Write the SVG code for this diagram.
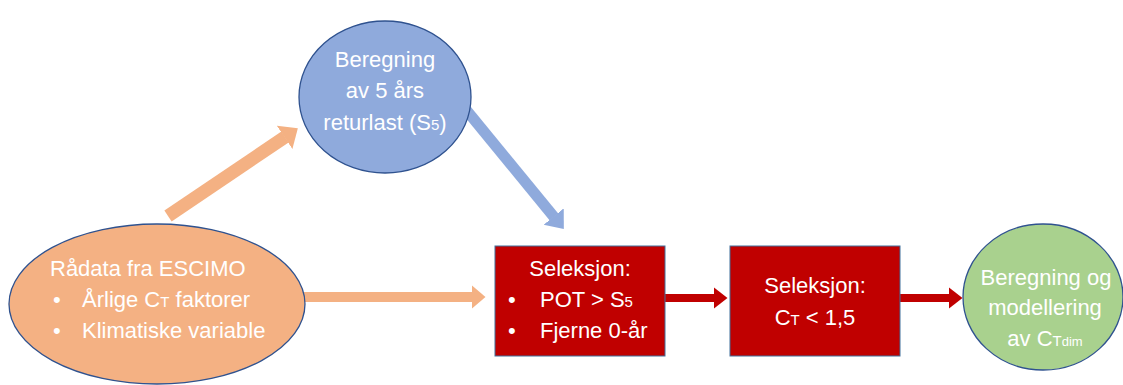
<svg xmlns="http://www.w3.org/2000/svg" width="1123" height="385" viewBox="0 0 1123 385">
<style>
  text { font-family: "Liberation Sans", Arial, sans-serif; font-size: 22px; fill: #ffffff; }
  .c { text-anchor: middle; }
  .sub { font-size: 15px; }
  .sub2 { font-size: 13px; }
  .node { stroke: #2F528F; stroke-width: 1.3; }
  .box { stroke: #41719C; stroke-width: 1; }
</style>
<defs>
  <marker id="hOrange" markerUnits="userSpaceOnUse" markerWidth="17" markerHeight="30" refX="0.5" refY="15" orient="auto">
    <path d="M0,1 L16,15 L0,29 z" fill="#F4B183"/>
  </marker>
  <marker id="hBlue" markerUnits="userSpaceOnUse" markerWidth="17" markerHeight="30" refX="0.5" refY="15" orient="auto">
    <path d="M0,2 L16,15 L0,28 z" fill="#8FAADC"/>
  </marker>
  <marker id="hOrange2" markerUnits="userSpaceOnUse" markerWidth="15" markerHeight="26" refX="0.5" refY="13" orient="auto">
    <path d="M0,1 L14,13 L0,25 z" fill="#F4B183"/>
  </marker>
  <marker id="hRed" markerUnits="userSpaceOnUse" markerWidth="15" markerHeight="24" refX="0.5" refY="12" orient="auto">
    <path d="M0,1 L14,12 L0,23 z" fill="#C00000"/>
  </marker>
</defs>

<g id="connectors">
  <line x1="168" y1="216" x2="285" y2="137" stroke="#F4B183" stroke-width="13" marker-end="url(#hOrange)"/>
  <line x1="463" y1="106" x2="554" y2="217" stroke="#8FAADC" stroke-width="11" marker-end="url(#hBlue)"/>
  <line x1="300" y1="297" x2="472" y2="297" stroke="#F4B183" stroke-width="10" marker-end="url(#hOrange2)"/>
  <line x1="665" y1="298" x2="714" y2="298" stroke="#C00000" stroke-width="8" marker-end="url(#hRed)"/>
  <line x1="900" y1="298" x2="949" y2="298" stroke="#C00000" stroke-width="8" marker-end="url(#hRed)"/>
</g>

<g id="node-radata">
  <ellipse cx="157" cy="304" rx="148" ry="80" fill="#F4B183" class="node"/>
  <text x="50" y="276">Rådata fra ESCIMO</text>
  <text x="53" y="307">•</text>
  <text x="82" y="307">Årlige C<tspan class="sub">T</tspan> faktorer</text>
  <text x="53" y="338">•</text>
  <text x="82" y="338">Klimatiske variable</text>
</g>

<g id="node-beregning5">
  <ellipse cx="385" cy="97" rx="86" ry="76" fill="#8FAADC" class="node"/>
  <text class="c" x="385" y="67">Beregning</text>
  <text class="c" x="385" y="98">av 5 års</text>
  <text class="c" x="385" y="130">returlast (S<tspan class="sub">5</tspan>)</text>
</g>

<g id="node-seleksjon1">
  <rect x="495" y="246" width="170" height="110" fill="#C00000" class="box"/>
  <text class="c" x="580" y="276">Seleksjon:</text>
  <text x="508" y="307">•</text>
  <text x="540" y="307">POT &gt; S<tspan class="sub">5</tspan></text>
  <text x="508" y="338">•</text>
  <text x="540" y="338">Fjerne 0-år</text>
</g>

<g id="node-seleksjon2">
  <rect x="730" y="246" width="170" height="110" fill="#C00000" class="box"/>
  <text class="c" x="815" y="293">Seleksjon:</text>
  <text class="c" x="815" y="325">C<tspan class="sub">T</tspan> &lt; 1,5</text>
</g>

<g id="node-ctdim">
  <ellipse cx="1043" cy="297" rx="80" ry="73" fill="#A9D18E" class="node"/>
  <text class="c" x="1046" y="285">Beregning og</text>
  <text class="c" x="1045" y="315">modellering</text>
  <text class="c" x="1045" y="346">av C<tspan class="sub">T</tspan><tspan class="sub2">dim</tspan></text>
</g>
</svg>
